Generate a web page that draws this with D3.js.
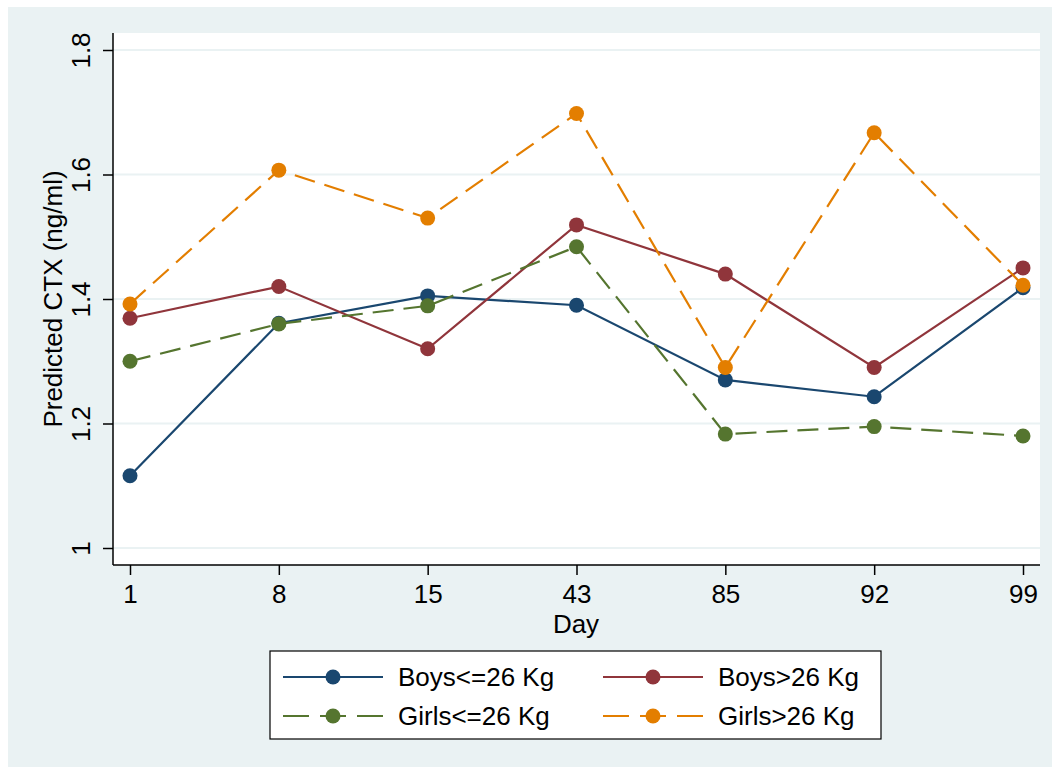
<!DOCTYPE html>
<html><head><meta charset="utf-8">
<script src="https://cdn.jsdelivr.net/npm/d3@7"></script>
<style>body{margin:0;background:#fff}svg{display:block}text{font-family:"Liberation Sans",Arial,sans-serif;fill:#000}</style>
</head><body><svg id="c" width="1052" height="767"></svg>
<script>
const days = ["1","8","15","43","85","92","99"];
const boysLe26 = [1.116,1.361,1.405,1.390,1.270,1.243,1.418];
const boysGt26 = [1.369,1.420,1.320,1.519,1.440,1.290,1.450];
const girlsLe26 = [1.300,1.360,1.389,1.484,1.183,1.195,1.180];
const girlsGt26 = [1.392,1.607,1.530,1.698,1.290,1.667,1.422];
const yTicks = [1,1.2,1.4,1.6,1.8];
const seriesNames = ["Boys<=26 Kg","Boys>26 Kg","Girls<=26 Kg","Girls>26 Kg"];

const series = [
  {name:seriesNames[0], vals:boysLe26, color:"#1a476f", dash:null},
  {name:seriesNames[1], vals:boysGt26, color:"#90353b", dash:null},
  {name:seriesNames[2], vals:girlsLe26, color:"#55752f", dash:"21,10"},
  {name:seriesNames[3], vals:girlsGt26, color:"#e37e00", dash:"21,10"}
];

const FS = 26;
const svg = d3.select("#c");
svg.append("rect").attr("x",8).attr("y",7).attr("width",1044).attr("height",760).attr("fill","#eaf2f3");
const L=113,R=1040,T=33,B=565;
svg.append("rect").attr("x",L).attr("y",T).attr("width",R-L).attr("height",B-T).attr("fill","#fff");

const x = d3.scalePoint().domain(days).range([130,1023]);
const y = d3.scaleLinear().domain([1,1.8]).range([548,50]);

// grid
svg.append("g").selectAll("line").data(yTicks).join("line")
  .attr("x1",L).attr("x2",R).attr("y1",d=>y(d)).attr("y2",d=>y(d))
  .attr("stroke","#eaf2f3").attr("stroke-width",2);

// y axis
const ya = svg.append("g").attr("transform",`translate(${L},0)`)
  .call(d3.axisLeft(y).tickValues(yTicks).tickFormat(d=>d3.format("")(d)).tickSize(10).tickSizeOuter(0));
ya.select(".domain").remove();
ya.selectAll(".tick line").attr("stroke","#000").attr("stroke-width",1.5);
ya.selectAll(".tick text").attr("font-size",FS).attr("transform","rotate(-90)")
  .attr("x",0).attr("y",-23).attr("dy",0).attr("text-anchor","middle");
svg.append("line").attr("x1",L).attr("x2",L).attr("y1",T).attr("y2",B).attr("stroke","#000").attr("stroke-width",1.5);

// x axis
const xa = svg.append("g").attr("transform",`translate(0,${B})`)
  .call(d3.axisBottom(x).tickSize(10).tickSizeOuter(0));
xa.select(".domain").remove();
xa.selectAll(".tick line").attr("stroke","#000").attr("stroke-width",1.5);
xa.selectAll(".tick text").attr("font-size",FS).attr("y",38).attr("dy",0);
svg.append("line").attr("x1",L).attr("x2",R).attr("y1",B).attr("y2",B).attr("stroke","#000").attr("stroke-width",1.5);

// titles
svg.append("text").attr("x",576).attr("y",633).attr("text-anchor","middle").attr("font-size",FS).text("Day");
svg.append("text").attr("transform","translate(62,299) rotate(-90)").attr("text-anchor","middle").attr("font-size",FS).text("Predicted CTX (ng/ml)");

// lines
const line = d3.line().x((d,i)=>x(days[i])).y(d=>y(d));
series.forEach(s=>{
  svg.append("path").attr("d",line(s.vals)).attr("fill","none").attr("stroke",s.color)
    .attr("stroke-width",2.2).attr("stroke-dasharray",s.dash);
  svg.append("g").selectAll("circle").data(s.vals).join("circle")
    .attr("cx",(d,i)=>x(days[i])).attr("cy",d=>y(d)).attr("r",7.5).attr("fill",s.color);
});

// legend
svg.append("rect").attr("x",270).attr("y",651).attr("width",611).attr("height",88).attr("fill","#fff").attr("stroke","#000").attr("stroke-width",1.2);
const pos = [[283,677],[603,677],[283,716],[603,716]];
series.forEach((s,i)=>{
  const [lx,ly]=pos[i];
  svg.append("line").attr("x1",lx).attr("x2",lx+100).attr("y1",ly).attr("y2",ly)
    .attr("stroke",s.color).attr("stroke-width",2.2).attr("stroke-dasharray",s.dash?"26,11":null);
  svg.append("circle").attr("cx",lx+50).attr("cy",ly).attr("r",7.5).attr("fill",s.color);
  svg.append("text").attr("x",lx+115).attr("y",ly+9).attr("font-size",FS).text(s.name);
});
</script></body></html>
